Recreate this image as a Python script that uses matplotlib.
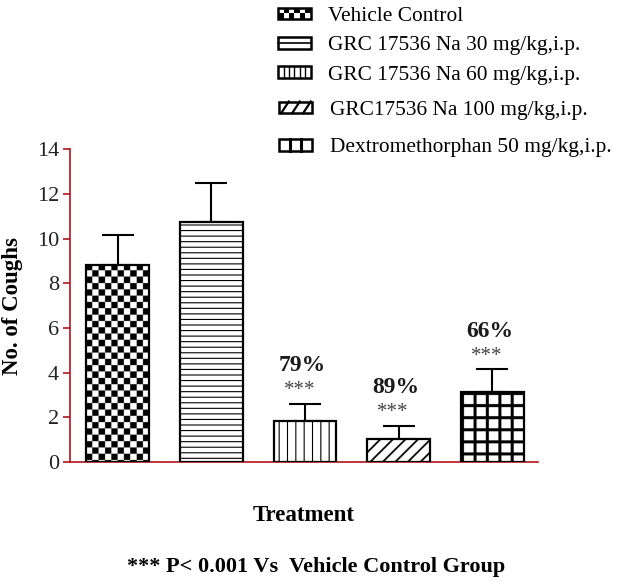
import numpy as np
import matplotlib
matplotlib.use('Agg')
import matplotlib.pyplot as plt
import matplotlib.patches as mpatches
from matplotlib.lines import Line2D
from matplotlib.legend_handler import HandlerBase

plt.rcParams['font.family'] = ['Liberation Serif', 'DejaVu Serif']

# data
groups = ['Vehicle Control', 'GRC 17536 Na 30 mg/kg,i.p.', 'GRC 17536 Na 60 mg/kg,i.p.',
          'GRC17536 Na 100 mg/kg,i.p.', 'Dextromethorphan 50 mg/kg,i.p.']
means = [8.83, 10.73, 1.84, 1.02, 3.11]
sems = [1.34, 1.77, 0.76, 0.61, 1.03]
inhibition = ['', '', '79%', '89%', '66%']
signif = ['', '', '***', '***', '***']

# fill styles: hatch for the simple ones, pixel textures for the rest
hatches = ['', '---', '||', '', '']
textures = ['checker', '', '', 'diag', 'grid']
legend_kinds = ['checker', 'hline', 'vline', 'diag', 'grid']
spine_col = '#b3141b'


def tex_checker(xp, yp):
    return ((xp // 6.3).astype(int) + (yp // 6.3).astype(int)) % 2 == 0


def tex_diag(xp, yp):
    return ((xp + yp) % 12.5) < 2.4


def tex_grid(xp, yp):
    return ((xp % 12.4) < 3.0) | ((yp % 12.0) < 3.0)


tex_funcs = {'checker': tex_checker, 'diag': tex_diag, 'grid': tex_grid}


class BoxHandler(HandlerBase):
    def __init__(self, kind):
        super().__init__()
        self.kind = kind

    def create_artists(self, legend, orig_handle, xdescent, ydescent,
                       width, height, fontsize, trans):
        x0, y0 = -xdescent, -ydescent
        arts = []
        if self.kind == 'checker':
            nx, ny = 6, 2
            for i in range(nx):
                for j in range(ny):
                    if (i + j) % 2 == 0:
                        arts.append(mpatches.Rectangle(
                            (x0 + i * width / nx, y0 + j * height / ny),
                            width / nx, height / ny, facecolor='black',
                            edgecolor='none', transform=trans))
        elif self.kind == 'hline':
            arts.append(Line2D([x0, x0 + width], [y0 + height / 2] * 2,
                               color='black', lw=1.2, transform=trans))
        elif self.kind == 'vline':
            for k in range(1, 6):
                xa = x0 + k * width / 6
                arts.append(Line2D([xa, xa], [y0, y0 + height], color='black',
                                   lw=1.0, transform=trans))
        elif self.kind == 'diag':
            for k in range(3):
                xa = x0 + (k + 0.15) * width / 3
                arts.append(Line2D([xa, xa + width / 3 * 0.7], [y0, y0 + height],
                                   color='black', lw=1.6, transform=trans))
        elif self.kind == 'grid':
            for k in (1, 2):
                xa = x0 + k * width / 3
                arts.append(Line2D([xa, xa], [y0, y0 + height], color='black',
                                   lw=2.2, transform=trans))
        arts.append(mpatches.Rectangle((x0, y0), width, height,
                                       facecolor='none', edgecolor='black',
                                       lw=1.8, transform=trans))
        return arts


fig = plt.figure(figsize=(6.28, 5.84), dpi=100)
ax = fig.add_axes([0.1115, 0.209, 0.7455, 0.5353])

x = np.arange(len(groups))
bars = []
plt.rcParams['hatch.linewidth'] = 0.8
for i in range(len(groups)):
    b = ax.bar(x[i], means[i], width=0.67,
               facecolor='none' if textures[i] else 'white',
               edgecolor='black', linewidth=1.6, hatch=hatches[i] or None,
               zorder=3, label=groups[i])
    bars.append(b)

ax.errorbar(x, means, yerr=[np.zeros(len(sems)), sems], fmt='none',
            ecolor='black', elinewidth=1.5, capsize=11.5, capthick=1.5, zorder=2)

ax.set_xlim(-0.51, 4.49)
ax.set_ylim(0, 14)

# textured fills (checkerboard, diagonal, grid) drawn as clipped images
fig.canvas.draw()
p0 = ax.transData.transform((0, 0))
p1 = ax.transData.transform((1, 1))
px_x, px_y = p1[0] - p0[0], p1[1] - p0[1]
ss = 4
for i in range(len(groups)):
    if not textures[i]:
        continue
    rect = bars[i][0]
    bw = rect.get_width()
    wpx = bw * px_x
    hpx = means[i] * px_y
    nc = int(np.ceil(wpx * ss))
    nr = int(np.ceil(hpx * ss))
    xp = (np.arange(nc) + 0.5) / ss
    yp = (np.arange(nr) + 0.5) / ss
    XP, YP = np.meshgrid(xp, yp)
    ink = tex_funcs[textures[i]](XP, YP)
    arr = np.where(ink, 0.0, 1.0)
    img = ax.imshow(arr, cmap='gray', vmin=0, vmax=1, aspect='auto',
                    interpolation='antialiased', origin='upper',
                    extent=(rect.get_x(), rect.get_x() + bw, 0, means[i]),
                    zorder=2.5)
    img.set_clip_path(rect)
ax.set_xlim(-0.51, 4.49)
ax.set_ylim(0, 14)

for i in range(len(groups)):
    if signif[i]:
        top = means[i] + sems[i]
        ax.text(x[i] - 0.06, top + 0.6, signif[i], ha='center', va='center',
                fontsize=15, color='#444444')
        ax.text(x[i] - 0.03, top + 1.72, inhibition[i], ha='center', va='center',
                fontsize=17, fontweight='bold', color='#1a1a1a')

for s in ['top', 'right']:
    ax.spines[s].set_visible(False)
for s in ['left', 'bottom']:
    ax.spines[s].set_color(spine_col)
    ax.spines[s].set_linewidth(1.2)
ax.set_xticks([])
ax.set_yticks(np.arange(0, 15, 2))
ax.tick_params(axis='y', colors=spine_col, length=5, width=1.2, labelsize=16,
               labelcolor='#222222', pad=3)

ax.set_ylabel('No. of Coughs', fontsize=16.5, fontweight='bold', labelpad=10)
ax.set_xlabel('Treatment', fontsize=16.5, fontweight='bold', labelpad=31)

fig.text(0.503, 0.029, '*** P< 0.001 Vs  Vehicle Control Group', ha='center',
         va='center', fontsize=16, fontweight='bold')

proxies = [mpatches.Patch(facecolor='white', edgecolor='black') for _ in groups]
hmap = {p: BoxHandler(k) for p, k in zip(proxies, legend_kinds)}
leg_kw = dict(frameon=False, fontsize=15.4, handlelength=1.54, handleheight=0.47,
              handletextpad=0.8, borderpad=0, borderaxespad=0, handler_map=hmap)
fig.legend(proxies[:3], groups[:3], loc='upper left', bbox_to_anchor=(0.4427, 0.988),
           labelspacing=0.49, **leg_kw)
fig.legend(proxies[3:], groups[3:], loc='upper left', bbox_to_anchor=(0.445, 0.827),
           labelspacing=0.86, **leg_kw)

plt.savefig('out.png', dpi=100)
